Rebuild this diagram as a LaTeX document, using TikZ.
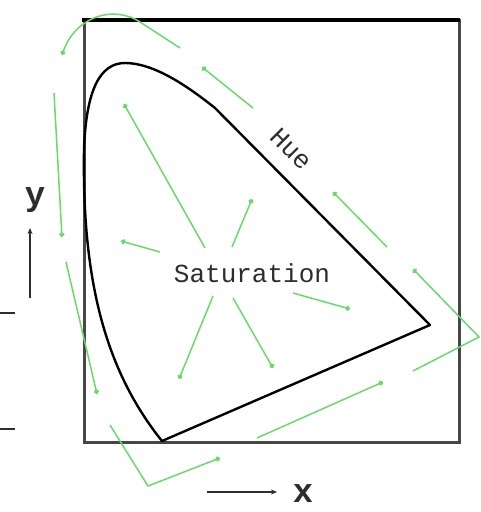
\documentclass[tikz,border=0pt]{standalone}
\usepackage{fontspec}
\setmonofont{Liberation Mono}
\usetikzlibrary{arrows.meta}
\definecolor{vert}{RGB}{105,218,105}
\definecolor{encre}{RGB}{45,45,45}
\begin{document}
\begin{tikzpicture}[x=1pt,y=-1pt,
    fleche/.style={vert, line width=1.5pt, -{Circle[length=5pt]}},
    axe/.style={encre, line width=1.1pt, -{Stealth[length=6pt,width=5pt]}},
    texte/.style={encre, font=\ttfamily\fontsize{26}{28}\selectfont, inner sep=0pt}]
    \useasboundingbox (0,0) rectangle (481,512);

    % Cadre
    \draw[line width=3pt, black!72] (84,20) rectangle (459,442);
    \draw[line width=4.5pt] (82,20) -- (460,20);

    % Courbe
    \coordinate (bas) at (162,441);
    \coordinate (pointe) at (430,325);
    \draw[line width=2.4pt, line join=round] (bas)
        .. controls (105,370) and (82,280) .. (84,150)
        .. controls (86,90) and (100,63) .. (125,63)
        .. controls (150,63) and (180,80) .. (215,108)
        -- (pointe) -- cycle;

    % Textes
    \node[texte] (sat) at (252,273) {Saturation};
    \node[texte, rotate=-45] (hue) at (291,149) {Hue};
    \node[encre, font=\ttfamily\bfseries\fontsize{34}{36}\selectfont, inner sep=0pt] (ylab) at (35,200) {y};
    \node[encre, font=\ttfamily\bfseries\fontsize{34}{36}\selectfont, inner sep=0pt] (xlab) at (303,494) {x};

    % Axes
    \draw[axe] (30,298) -- (30,228);
    \draw[axe] (207,492) -- (277,492);
    \draw[encre, line width=1.2pt] (0,313) -- (15,313);
    \draw[encre, line width=1.2pt] (0,429) -- (15,429);

    % Saturation
    \foreach \tx/\ty/\hx/\hy in {205/248/124/104, 232/247/252/199, 160/252/121/241,
        213/296/179/379, 233/298/273/368, 293/293/350/309} {
        \draw[fleche] (\tx,\ty) -- (\hx,\hy);
    }

    % Teinte
    \draw[fleche] (180,48) -- (140,22) .. controls (112,4) and (75,18) .. (62,55);
    \draw[fleche] (253,108) -- (202,67);
    \draw[fleche] (387,247) -- (333,192);
    \draw[fleche] (413,371) -- (479,337) -- (413,269);
    \draw[fleche] (257,438) -- (383,382);
    \draw[fleche] (110,425) -- (148,486) -- (220,458);
    \draw[fleche] (66,262) -- (97,394);
    \draw[fleche] (54,93) -- (62,237);
\end{tikzpicture}
\end{document}
